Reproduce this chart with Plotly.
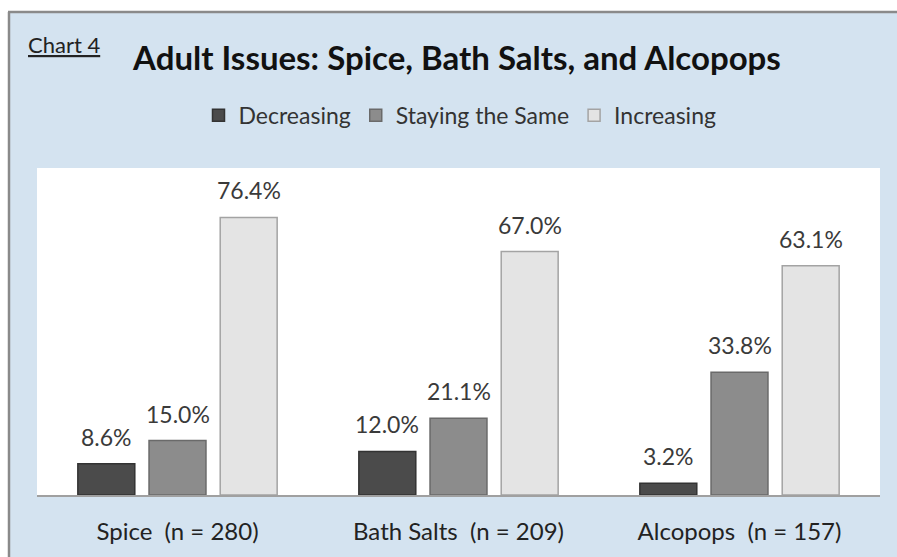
import plotly.graph_objects as go

categories = ["Spice  (n = 280)", "Bath Salts  (n = 209)", "Alcopops  (n = 157)"]
series_names = ["Decreasing", "Staying the Same", "Increasing"]
decreasing = [8.6, 12.0, 3.2]
staying = [15.0, 21.1, 33.8]
increasing = [76.4, 67.0, 63.1]

W, H = 897, 557
L, R, T, B = 37, 17, 168, 60
pw, ph = W - L - R, H - T - B

def px_x(x):  # page pixel -> paper coordinate
    return (x - L) / pw

def px_y(y):
    return (H - B - y) / ph

fills = ["#4b4b4b", "#8c8c8c", "#e4e4e4"]
edges = ["#333333", "#6a6a6a", "#a3a3a3"]
values = [decreasing, staying, increasing]
font_family = "Lato"
BARGAP = 0.24
slot = pw / len(categories) * (1 - BARGAP) / len(values)

fig = go.Figure()
annotations = []
for i, (name, vals, fc, ec) in enumerate(zip(series_names, values, fills, edges)):
    fig.add_trace(go.Bar(
        x=categories, y=vals, name=name,
        marker=dict(color=fc, line=dict(color=ec, width=1.5)),
    ))
    for c, v in zip(categories, vals):
        annotations.append(dict(
            x=c, y=v, xref="x", yref="y", text=f"{v:.1f}%", showarrow=False,
            xanchor="center", yanchor="bottom", xshift=(i - 1) * slot, yshift=11,
            font=dict(size=23, color="#3a3a3a", family=font_family)))

annotations.append(dict(text="<u>Chart 4</u>", xref="paper", yref="paper", x=px_x(26), y=px_y(44),
                        xanchor="left", yanchor="middle", showarrow=False,
                        font=dict(size=22, color="#222222", family=font_family)))

fig.update_layout(
    width=W, height=H,
    margin=dict(l=L, r=R, t=T, b=B),
    paper_bgcolor="#d4e3f0",
    plot_bgcolor="#ffffff",
    barmode="group", bargap=BARGAP, bargroupgap=0.2,
    font=dict(family=font_family, color="#222222"),
    title=dict(text="<b>Adult Issues: Spice, Bath Salts, and Alcopops</b>",
               x=px_x(457), xref="paper", xanchor="center",
               y=1 - 58 / H, yanchor="middle",
               font=dict(size=33, color="#111111", family=font_family)),
    legend=dict(orientation="h", x=px_x(460), xanchor="center", y=px_y(115), yanchor="middle",
                font=dict(size=23, color="#333333", family=font_family),
                bgcolor="rgba(0,0,0,0)", itemwidth=30, traceorder="normal"),
    xaxis=dict(showline=True, linecolor="#a0a0a0", linewidth=1.5, ticks="",
               tickfont=dict(size=24, color="#222222", family=font_family), ticklabelstandoff=14),
    yaxis=dict(range=[0, 90], visible=False, showgrid=False),
    showlegend=True,
    shapes=[
        dict(type="rect", xref="paper", yref="paper", x0=px_x(-5), x1=px_x(W + 5),
             y0=px_y(11), y1=px_y(-5), fillcolor="#ffffff", line=dict(width=0), layer="below"),
        dict(type="rect", xref="paper", yref="paper", x0=px_x(-5), x1=px_x(8),
             y0=px_y(H + 5), y1=px_y(-5), fillcolor="#ffffff", line=dict(width=0), layer="below"),
        dict(type="line", xref="paper", yref="paper", x0=px_x(8), x1=px_x(W + 5),
             y0=px_y(11), y1=px_y(11), line=dict(color="#8a8a8a", width=2.5), layer="below"),
        dict(type="line", xref="paper", yref="paper", x0=px_x(9), x1=px_x(9),
             y0=px_y(11), y1=px_y(H + 5), line=dict(color="#8a8a8a", width=2.5), layer="below"),
    ],
    annotations=annotations,
)

fig.write_html("out.html", config={"displayModeBar": False},
               post_script="document.body.style.margin='0';")
